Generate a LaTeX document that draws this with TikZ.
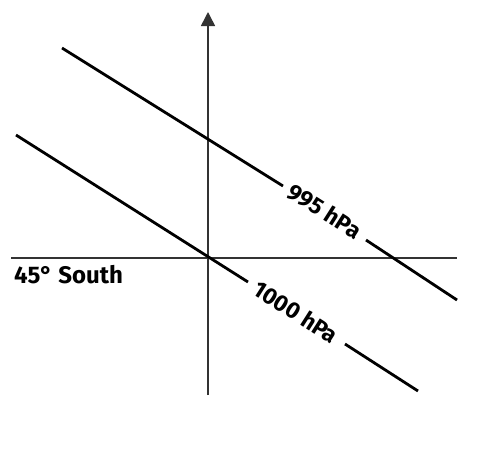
\documentclass[tikz,border=0pt]{standalone}
\usepackage{fontspec}
\setmainfont{Fira Sans}
\usetikzlibrary{arrows.meta}
\begin{document}
\begin{tikzpicture}[x=1pt,y=-1pt,
  axis/.style={line width=1.5pt,draw=black!80},
  isobar/.style={line width=2.8pt},
  lbl/.style={font=\bfseries\fontsize{23}{26}\selectfont,rotate=-32.5,inner sep=0pt}]
\useasboundingbox (0,0) rectangle (481,450);
\coordinate (xl) at (11,258);
\coordinate (xr) at (457,258);
\coordinate (yb) at (208,395);
\coordinate (yt) at (208,12);
\draw[axis] (xl) -- (xr);
\draw[axis,-{Triangle[length=14pt,width=14pt]}] (yb) -- (yt);
% 995 hPa
\coordinate (a1) at (62,48);
\coordinate (a2) at (283,186);
\coordinate (a3) at (366,240);
\coordinate (a4) at (457,300);
\draw[isobar] (a1) -- (a2);
\draw[isobar] (a3) -- (a4);
\node[lbl] (l995) at (325,211) {995 hPa};
% 1000 hPa
\coordinate (b1) at (16,135);
\coordinate (b2) at (248,282);
\coordinate (b3) at (345,344);
\coordinate (b4) at (418,391);
\draw[isobar] (b1) -- (b2);
\draw[isobar] (b3) -- (b4);
\node[lbl] (l1000) at (296,312) {1000 hPa};
\node[font=\bfseries\fontsize{24}{28}\selectfont,anchor=base west,inner sep=0pt] (south) at (14,283) {45° South};
\end{tikzpicture}
\end{document}
